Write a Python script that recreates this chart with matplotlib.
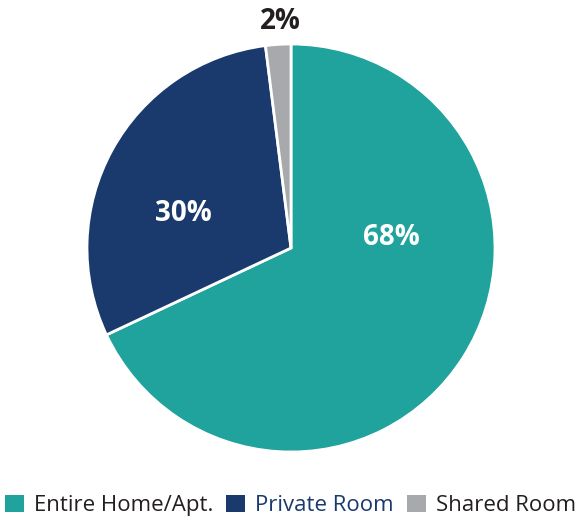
import matplotlib
matplotlib.use("Agg")
import matplotlib.pyplot as plt
from matplotlib.patches import Patch

labels = ["Entire Home/Apt.", "Private Room", "Shared Room"]
shares = [68, 30, 2]
colors = ["#20a29d", "#1a3a6e", "#a7a9ac"]
label_colors = ["#231f20", "#1a3a6e", "#231f20"]
pct_colors = ["white", "white", "#231f20"]
pct_pos = [(0.49, 0.05), (-0.53, 0.17), (-0.05, 1.11)]

plt.rcParams["font.family"] = ["Open Sans", "DejaVu Sans"]

W, H = 581, 518
fig = plt.figure(figsize=(W / 100, H / 100), dpi=100)
cx, cy, r = 291, 248, 204
ax = fig.add_axes([(cx - r) / W, (H - cy - r) / H, 2 * r / W, 2 * r / H])
ax.pie(shares, colors=colors, startangle=90, counterclock=False, radius=1,
       wedgeprops=dict(edgecolor="white", linewidth=2))
ax.set_xlim(-1, 1)
ax.set_ylim(-1, 1)
ax.set_aspect("equal")
ax.axis("off")

for v, (x, y), c in zip(shares, pct_pos, pct_colors):
    ax.text(x, y, f"{v}%", ha="center", va="center", fontsize=20,
            fontweight="bold", color=c, clip_on=False)

handles = [Patch(facecolor=c, edgecolor="none") for c in colors]
leg = fig.legend(handles, labels, loc="lower center", bbox_to_anchor=(0.5, -0.035),
                 ncol=3, frameon=False, fontsize=16, handlelength=0.85,
                 handleheight=0.85, handletextpad=0.45, columnspacing=0.6)
for t, c in zip(leg.get_texts(), label_colors):
    t.set_color(c)

fig.savefig("out.png", dpi=100)
